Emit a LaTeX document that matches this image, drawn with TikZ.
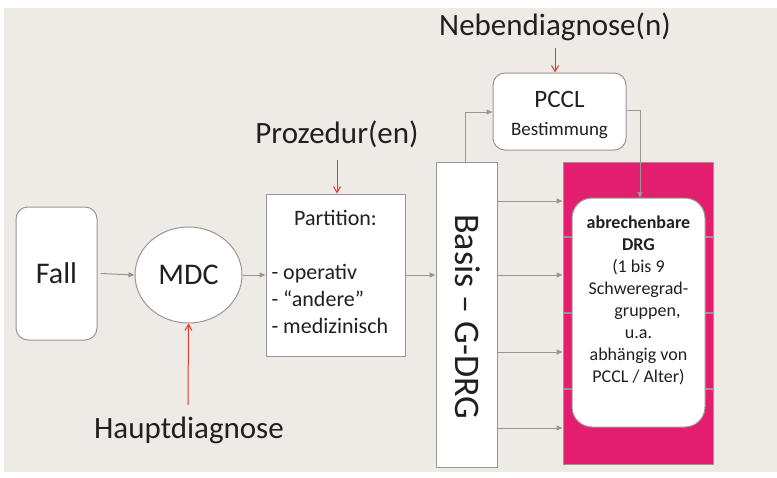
\documentclass[tikz,border=0pt]{standalone}
\usepackage{fontspec}
\setmainfont{Carlito}
\usetikzlibrary{arrows.meta,shapes.geometric}
\definecolor{bgbeige}{RGB}{238,235,231}
\definecolor{boxgray}{RGB}{155,150,147}
\definecolor{drgpink}{RGB}{227,30,110}
\definecolor{arrred}{RGB}{232,54,43}
\definecolor{txtgray}{RGB}{35,31,32}
\tikzset{
  box/.style={draw=boxgray, line width=1pt, fill=white},
  roundbox/.style={box, rounded corners=12pt},
  flow/.style={draw=boxgray, line width=1pt, -{Triangle[length=6pt,width=5pt]}},
  input/.style={draw=arrred, line width=1pt, -{Straight Barb[length=6pt,width=7pt]}},
  big/.style={font=\fontsize{30}{36}\selectfont}
}
\begin{document}
\begin{tikzpicture}[x=1pt, y=-1pt, text=txtgray]
\useasboundingbox (0,0) rectangle (777,477);
\fill[bgbeige] (4,8) rectangle (777,472);
% boxes
\node[roundbox, minimum width=81pt, minimum height=133pt, big] (fall) at (56.5,273.5) {Fall};
\node[box, ellipse, minimum width=107pt, minimum height=96pt, inner sep=0pt, big] (mdc) at (188.5,275) {MDC};
\node[box, minimum width=139pt, minimum height=162pt, inner sep=0pt] (part) at (335.5,275) {};
\node[font=\fontsize{22}{27}\selectfont] (parttitle) at (335.5,218) {Partition:};
\node[font=\fontsize{22}{27}\selectfont, align=left, anchor=west] (partlist) at (268,299) {- operativ\\- “andere”\\- medizinisch};
\node[box, minimum width=61pt, minimum height=305pt, inner sep=0pt] (basis) at (466.5,314.5) {};
\node[rotate=-90, font=\fontsize{36}{40}\selectfont] (basistext) at (468,317) {Basis -- G-DRG};
\node[roundbox, minimum width=133pt, minimum height=77pt, inner sep=0pt] (pccl) at (559.5,111.5) {};
\node[font=\fontsize{25}{28}\selectfont] (pcclname) at (559.5,99) {PCCL};
\node[font=\fontsize{19}{22}\selectfont] (pcclsub) at (559.5,131) {Bestimmung};
\node[draw=boxgray, line width=1pt, fill=drgpink, minimum width=150pt, minimum height=302pt, inner sep=0pt] (drgframe) at (638,313) {};
\foreach \ty in {237,313,389}
  \draw[boxgray, line width=1.5pt] (drgframe.west |- 0,\ty) -- (drgframe.east |- 0,\ty);
\node[roundbox, rounded corners=20pt, minimum width=133pt, minimum height=229pt] (drg) at (638.5,312.5) {};
\node[font=\fontsize{18}{22}\selectfont, align=center, anchor=north] (drgtext) at (638.5,212)
  {\textbf{abrechenbare}\\\textbf{DRG}\\(1 bis 9\\Schweregrad-\\\hspace*{1em}gruppen,\\u.a.\\abhängig von\\PCCL / Alter)};
% labels
\node[font=\fontsize{31}{36}\selectfont] (neben) at (555,27) {Nebendiagnose(n)};
\node[font=\fontsize{31}{36}\selectfont] (proz) at (337,134) {Prozedur(en)};
\node[font=\fontsize{31}{36}\selectfont] (haupt) at (189,430) {Hauptdiagnose};
% flow
\draw[flow] (fall.east) ++(3,0) -- (mdc.west);
\draw[flow] (mdc.east) -- (part.west |- mdc.east);
\draw[flow] (part.east |- mdc.east) -- (basis.west |- mdc.east);
\foreach \ty in {201,275,352,428}
  \draw[flow] (basis.east |- 0,\ty) -- (drgframe.west |- 0,\ty);
\draw[flow] (465,162) |- (pccl.west |- 0,112);
\draw[flow] (pccl.east |- 0,110) -| (640,198);
% inputs
\draw[input] (neben.south -| 555,0) ++(0,3) -- (pccl.north -| 555,0);
\draw[input] (337,160) -- (part.north -| 337,0);
\draw[input] (188,405) -- (mdc.south);
\end{tikzpicture}
\end{document}
